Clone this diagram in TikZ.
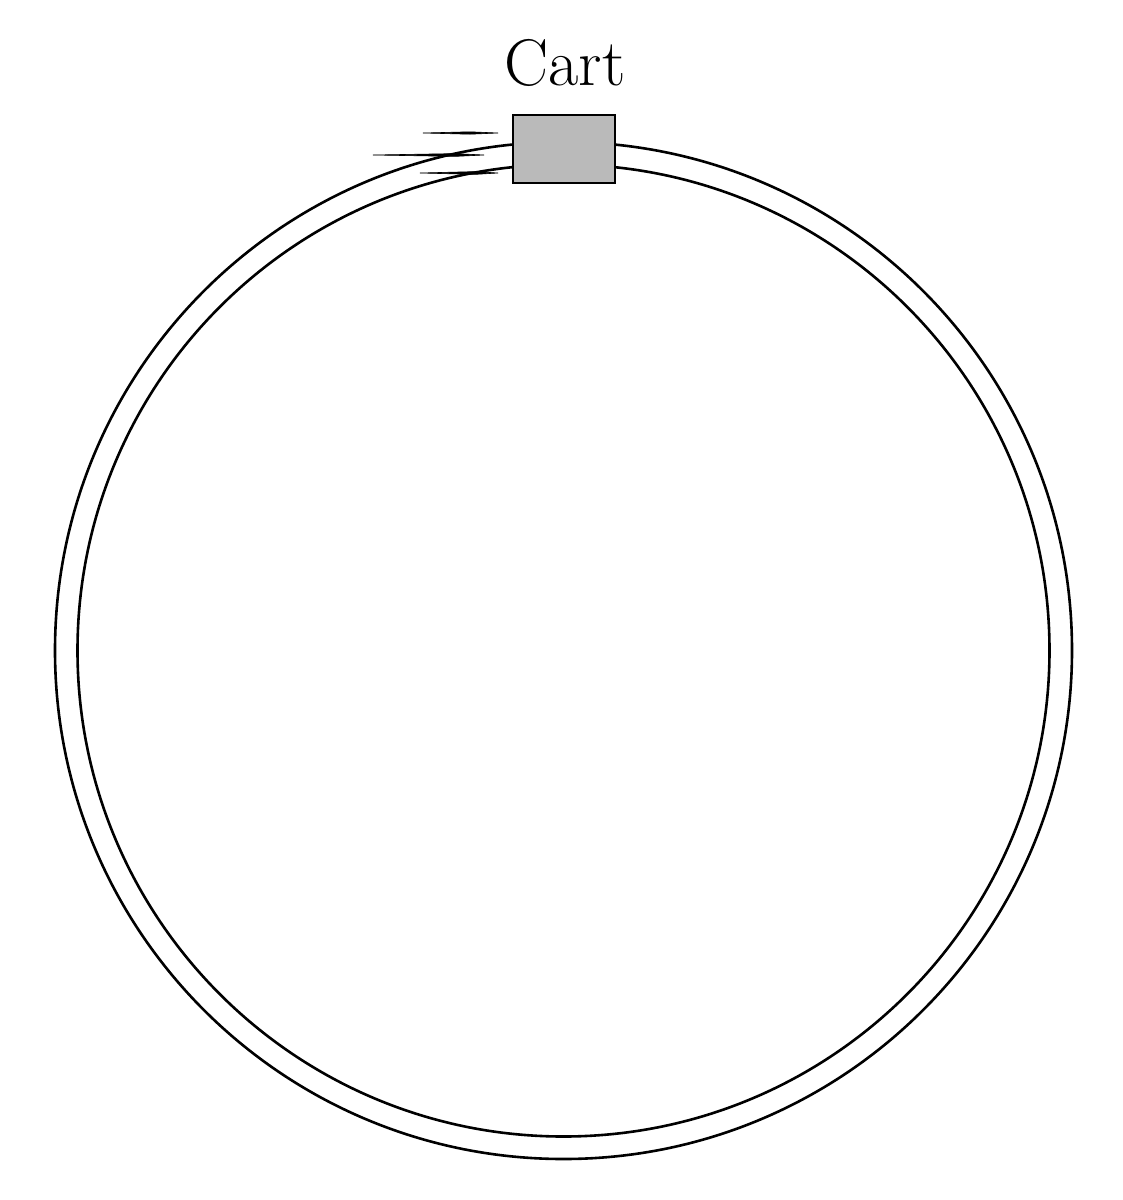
\documentclass[tikz,border=0pt]{standalone}
\begin{document}
\begin{tikzpicture}[x=0.5pt,y=-0.5pt,
  rail/.style={draw=black,line width=1.3pt},
  cartbox/.style={draw=black,line width=1.4pt,fill=black!27,minimum width=51pt,minimum height=34pt,inner sep=0pt},
  label/.style={font=\fontsize{33}{40}\selectfont,inner sep=0pt,anchor=base},
  speed/.style={fill=black,draw=black,line width=0.3pt}]
\useasboundingbox (0,0) rectangle (1123,1200);
\coordinate (c) at (563.5,650.5);
\draw[rail] (c) circle [radius=254.25pt];
\draw[rail] (c) circle [radius=243pt];
\node[cartbox] (cart) at (564,149) {};
\node[label] (title) at (565,85) {Cart};
% speed lines
\coordinate (a1) at (423,133); \coordinate (a2) at (498,133);
\coordinate (b1) at (373,155); \coordinate (b2) at (484,155);
\coordinate (d1) at (420,173); \coordinate (d2) at (498,173);
\fill[speed] (a1) -- (470,131.8) -- (a2) -- (470,134.2) -- cycle;
\fill[speed] (b1) -- (455,153.6) -- (b2) -- (455,156.4) -- cycle;
\fill[speed] (d1) -- (475,171.6) -- (d2) -- (475,174.4) -- cycle;
\end{tikzpicture}
\end{document}
